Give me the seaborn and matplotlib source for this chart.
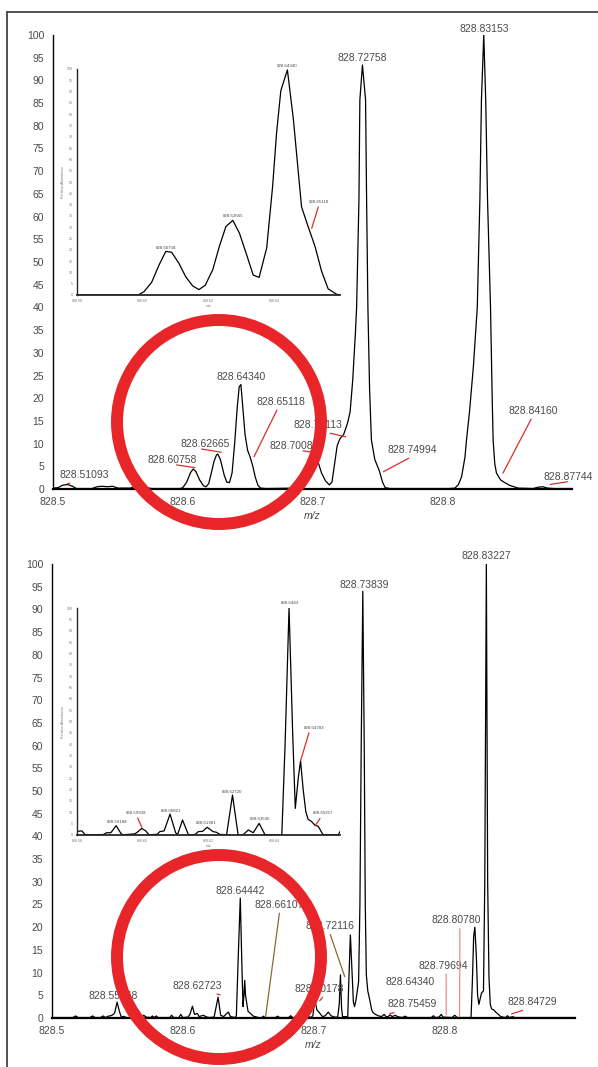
"""
High-resolution MS zoom: two profile spectra (m/z 828.5 - 828.9) with insets.
"""

import numpy as np
import pandas as pd
import matplotlib
matplotlib.use("Agg")
import matplotlib.pyplot as plt
import seaborn as sns
from matplotlib import font_manager
from matplotlib.patches import Ellipse
from matplotlib.lines import Line2D
from matplotlib.ticker import MultipleLocator

sns.set_style("white")

# condensed face if there is one, else Liberation Sans a bit smaller
try:
    font_manager.findfont("Liberation Sans Narrow", fallback_to_default=False)
    FAMILY, SCALE = "Liberation Sans Narrow", 1.0
except ValueError:
    FAMILY, SCALE = "Liberation Sans", 0.83
plt.rcParams["font.family"] = [FAMILY, "DejaVu Sans"]

# ---- data: (m/z, relative abundance) ----
top_main = [
    (828.500, 0.2), (828.504, 0.3), (828.507, 0.8), (828.511, 1.0), (828.515, 0.6),
    (828.518, 0.1), (828.530, 0.1), (828.534, 0.5), (828.538, 0.6), (828.542, 0.5),
    (828.546, 0.6), (828.550, 0.2), (828.560, 0.2), (828.563, 0.7), (828.568, 0.8),
    (828.572, 0.3), (828.576, 0.1), (828.598, 0.1), (828.600, 0.3), (828.603, 1.5),
    (828.606, 3.6), (828.608, 4.4), (828.610, 3.9), (828.613, 2.0), (828.616, 0.7),
    (828.618, 0.5), (828.620, 1.2), (828.622, 3.5), (828.624, 6.0), (828.626, 7.5),
    (828.627, 7.7), (828.629, 6.5), (828.632, 3.0), (828.634, 1.5), (828.636, 1.4),
    (828.638, 3.5), (828.640, 10.0), (828.642, 18.0), (828.6435, 22.5), (828.6448, 23.0),
    (828.646, 19.0), (828.648, 12.0), (828.650, 8.5), (828.652, 7.0), (828.654, 5.0),
    (828.656, 2.5), (828.658, 0.8), (828.660, 0.2), (828.664, 0.1), (828.690, 0.2),
    (828.693, 1.0), (828.696, 4.0), (828.699, 7.5), (828.702, 8.0), (828.704, 6.2),
    (828.707, 3.5), (828.710, 1.8), (828.713, 0.9), (828.715, 1.5), (828.717, 5.5),
    (828.719, 9.5), (828.721, 11.0), (828.724, 12.0), (828.727, 14.5), (828.729, 17.0),
    (828.731, 24.0), (828.733, 34.0), (828.734, 40.0), (828.7358, 63.7), (828.7365, 85.7),
    (828.7385, 93.4), (828.7409, 85.7), (828.7417, 63.7), (828.7427, 40.0), (828.744, 22.0),
    (828.7454, 10.8), (828.748, 6.5), (828.7515, 4.0), (828.754, 1.5), (828.756, 0.3),
    (828.760, 0.1), (828.805, 0.1), (828.8098, 0.2), (828.8125, 1.0), (828.8149, 2.7),
    (828.8175, 7.0), (828.8187, 10.8), (828.821, 17.0), (828.824, 27.0), (828.827, 40.0),
    (828.829, 63.7), (828.8302, 85.7), (828.832, 100.0), (828.8335, 85.7), (828.8349, 63.7),
    (828.8372, 40.0), (828.8385, 20.0), (828.8392, 10.8), (828.8405, 5.5), (828.8418, 3.5),
    (828.845, 2.0), (828.8482, 1.4), (828.852, 0.8), (828.8585, 0.2), (828.870, 0.1),
    (828.874, 0.4), (828.8775, 0.5), (828.881, 0.2), (828.886, 0.1), (828.900, 0.1),
]

top_inset = [
    (828.580, 0.0), (828.5986, 0.0), (828.6004, 1.5), (828.6027, 5.6), (828.6050, 13.4),
    (828.6070, 19.3), (828.6088, 18.9), (828.6110, 14.0), (828.6131, 8.0), (828.6152, 4.0),
    (828.6171, 2.4), (828.6190, 4.3), (828.6213, 11.2), (828.6233, 21.5), (828.6253, 30.3),
    (828.6274, 33.0), (828.6294, 27.4), (828.6316, 17.8), (828.6336, 8.8), (828.6354, 7.8),
    (828.6377, 20.8), (828.6395, 48.0), (828.6407, 71.6), (828.6420, 90.4), (828.6440, 99.6),
    (828.6458, 78.0), (828.6483, 39.0), (828.6503, 30.3), (828.6524, 21.5), (828.6544, 10.5),
    (828.6564, 2.7), (828.6590, 0.3), (828.6600, 0.1),
]

bottom_main = [
    (828.500, 0.1), (828.516, 0.1), (828.518, 0.45), (828.520, 0.1), (828.529, 0.1),
    (828.531, 0.45), (828.533, 0.1), (828.537, 0.1), (828.539, 0.45), (828.541, 0.1),
    (828.543, 0.4), (828.545, 0.5), (828.547, 0.8), (828.548, 1.2), (828.5498, 3.5),
    (828.5515, 1.5), (828.553, 0.2), (828.5548, 0.35), (828.557, 0.1), (828.5605, 0.1),
    (828.5617, 0.4), (828.563, 0.1), (828.568, 0.2), (828.5702, 0.6), (828.572, 0.2),
    (828.5755, 0.1), (828.5768, 0.45), (828.578, 0.1), (828.5798, 0.45), (828.581, 0.1),
    (828.590, 0.1), (828.5915, 0.6), (828.593, 0.1), (828.597, 0.1), (828.5985, 0.8),
    (828.600, 0.1), (828.604, 0.2), (828.6055, 0.8), (828.6074, 2.6), (828.609, 0.8),
    (828.6112, 1.0), (828.6125, 0.3), (828.6145, 0.5), (828.616, 0.6), (828.6175, 0.3),
    (828.620, 0.1), (828.624, 0.2), (828.627, 4.6), (828.629, 0.6), (828.6313, 0.3),
    (828.633, 0.8), (828.6349, 1.3), (828.6365, 0.3), (828.640, 0.1), (828.641, 0.5),
    (828.6425, 14.0), (828.6440, 26.4), (828.6452, 12.0), (828.6461, 2.5), (828.6468, 5.0),
    (828.6474, 8.3), (828.648, 5.0), (828.6499, 1.5), (828.654, 0.4), (828.658, 0.1),
    (828.6605, 0.1), (828.6617, 0.4), (828.663, 0.1), (828.671, 0.1), (828.6725, 0.4),
    (828.674, 0.1), (828.681, 0.1), (828.6825, 0.5), (828.684, 0.1), (828.692, 0.1),
    (828.6954, 0.4), (828.698, 0.1), (828.6995, 0.5), (828.701, 4.0), (828.7026, 1.8),
    (828.7044, 1.2), (828.706, 0.6), (828.707, 0.3), (828.709, 0.5), (828.7113, 1.3),
    (828.7134, 0.5), (828.716, 0.2), (828.7185, 0.2), (828.7197, 3.0), (828.7206, 9.5),
    (828.7215, 2.0), (828.7222, 0.3), (828.7262, 0.3), (828.7270, 8.0), (828.7282, 18.3),
    (828.7295, 10.0), (828.7305, 3.5), (828.7314, 2.5), (828.7325, 4.0), (828.7345, 8.0),
    (828.7355, 25.0), (828.7365, 60.0), (828.7377, 94.0), (828.7388, 60.0), (828.7396, 25.0),
    (828.7404, 9.5), (828.7415, 6.0), (828.743, 4.0), (828.7445, 1.8), (828.7455, 1.2),
    (828.7473, 0.8), (828.7494, 0.5), (828.752, 0.3), (828.754, 0.8), (828.7555, 0.3),
    (828.7571, 0.3), (828.7585, 0.7), (828.7602, 0.3), (828.7625, 0.6), (828.7643, 0.3),
    (828.768, 0.1), (828.770, 0.4), (828.772, 0.1), (828.790, 0.1), (828.7918, 0.5),
    (828.793, 0.1), (828.796, 0.2), (828.7977, 0.8), (828.799, 0.2), (828.806, 0.1),
    (828.808, 0.6), (828.810, 0.1), (828.8205, 0.1), (828.8215, 8.0), (828.8225, 18.0),
    (828.8234, 20.0), (828.8245, 14.0), (828.8255, 5.0), (828.8265, 3.0), (828.8285, 5.5),
    (828.8300, 6.0), (828.8310, 30.0), (828.8322, 100.0), (828.8332, 30.0), (828.8342, 9.0),
    (828.8352, 3.0), (828.8362, 2.0), (828.8378, 1.8), (828.8393, 1.3), (828.8414, 0.8),
    (828.8432, 0.3), (828.847, 0.1), (828.8483, 0.5), (828.850, 0.1), (828.8522, 0.3),
    (828.854, 0.1), (828.900, 0.1),
]

bottom_inset = [
    (828.5800, 1.6), (828.5815, 1.8), (828.5825, 0.1), (828.5880, 0.2), (828.5890, 1.0),
    (828.5903, 1.0), (828.5919, 4.1), (828.5934, 0.6), (828.5940, 0.1), (828.5976, 0.5),
    (828.5983, 1.2), (828.5997, 2.9), (828.6009, 1.8), (828.6019, 0.1), (828.6044, 0.3),
    (828.6052, 1.5), (828.6065, 1.8), (828.6083, 9.2), (828.6100, 1.0), (828.6106, 0.2),
    (828.6121, 6.6), (828.6139, 0.1), (828.6159, 0.2), (828.6169, 1.5), (828.6182, 1.6),
    (828.6196, 3.4), (828.6214, 1.5), (828.6224, 1.2), (828.6234, 0.3), (828.6255, 0.1),
    (828.6273, 17.6), (828.6290, 0.1), (828.6306, 0.2), (828.6321, 2.2), (828.6336, 1.0),
    (828.6354, 5.1), (828.6372, 0.1), (828.6423, 0.1), (828.6433, 40.0), (828.6445, 100.0),
    (828.6456, 45.0), (828.6464, 11.7), (828.6473, 25.0), (828.6480, 32.7), (828.6488, 20.0),
    (828.6496, 10.3), (828.6503, 6.9), (828.6513, 6.0), (828.6524, 4.3), (828.6534, 3.8),
    (828.6544, 1.2), (828.6549, 0.1), (828.6595, 0.1), (828.6600, 1.5),
]

# peak labels: (text, label x, label y, leader end x, leader end y, leader anchor x, colour)
RED = "#d9302c"
BROWN = "#8c6a33"
PINK = "#f08a8a"
top_main_labels = [
    ("828.51093", 828.5239, 3.1, 828.5113, 1.2, 0.62, RED),
    ("828.60758", 828.5922, 6.4, 828.6094, 4.7, 0.58, RED),
    ("828.62665", 828.6175, 9.9, 828.6296, 8.1, 0.42, RED),
    ("828.64340", 828.6451, 24.6, None, None, None, None),
    ("828.65118", 828.6757, 19.2, 828.6549, 7.1, 0.45, RED),
    ("828.70082", 828.6859, 9.5, 828.7041, 7.9, 0.68, RED),
    ("828.72113", 828.7041, 14.1, 828.7255, 11.5, 0.46, RED),
    ("828.74994", 828.7770, 8.6, 828.7546, 3.8, 0.55, RED),
    ("828.84160", 828.8698, 17.2, 828.8468, 3.5, 0.50, RED),
    ("828.87744", 828.8972, 2.7, 828.8832, 1.0, 0.48, RED),
    ("828.72758", 828.7384, 95.0, None, None, None, None),
    ("828.83153", 828.8322, 101.3, None, None, None, None),
]
bottom_main_labels = [
    ("828.55048", 828.5467, 4.9, None, None, None, None),
    ("828.62723", 828.6114, 7.1, 828.6285, 5.1, 0.65, RED),
    ("828.64442", 828.6439, 27.9, None, None, None, None),
    ("828.66107", 828.6735, 24.9, 828.6634, 0.4, 0.52, BROWN),
    ("828.72116", 828.7127, 20.2, 828.7239, 9.1, 0.48, BROWN),
    ("828.70178", 828.7047, 6.4, 828.7047, 3.8, 0.62, RED),
    ("828.64340", 828.7738, 8.0, None, None, None, None),
    ("828.75459", 828.7756, 3.0, 828.7585, 1.0, 0.47, RED),
    ("828.79694", 828.7992, 11.5, 828.8015, 0.7, 0.56, PINK),
    ("828.80780", 828.8093, 21.5, 828.8117, 0.3, 0.57, PINK),
    ("828.84729", 828.8677, 3.5, 828.8515, 0.9, 0.50, RED),
    ("828.73839", 828.7386, 95.4, None, None, None, None),
    ("828.83227", 828.8325, 101.7, None, None, None, None),
]
top_inset_labels = [
    ("828.60758", 828.6070, 20.9, None, None, None, None),
    ("828.62665", 828.6274, 35.1, None, None, None, None),
    ("828.64340", 828.6440, 101.5, None, None, None, None),
    ("828.65118", 828.6537, 41.3, 828.6514, 29.5, 0.50, RED),
]
bottom_inset_labels = [
    ("828.59188", 828.5921, 5.9, None, None, None, None),
    ("828.59928", 828.5979, 9.8, 828.5997, 3.4, 0.52, RED),
    ("828.60821", 828.6085, 10.7, None, None, None, None),
    ("828.61981", 828.6194, 5.4, None, None, None, None),
    ("828.62720", 828.6272, 19.1, None, None, None, None),
    ("828.63536", 828.6357, 6.9, None, None, None, None),
    ("828.6443", 828.6448, 102.1, None, None, None, None),
    ("828.64783", 828.6521, 47.3, 828.6480, 32.7, 0.30, RED),
    ("828.65257", 828.6549, 9.6, 828.6524, 4.0, 0.45, RED),
]

W, H = 598, 1067
TXT = "#4a4a4a"
INSET_TXT = "#777777"


def ax_rect(left, top, right, bottom):
    """Pixel box -> figure fraction rect."""
    return [left / W, 1 - bottom / H, (right - left) / W, (bottom - top) / H]


def draw_profile(ax, profile):
    df = pd.DataFrame(profile, columns=["mz", "abundance"])
    sns.lineplot(data=df, x="mz", y="abundance", ax=ax, color="black",
                 lw=0.9, estimator=None, sort=False)


def add_labels(ax, labels, size):
    for text, tx, ty, px, py, rx, col in labels:
        if px is None:
            ax.text(tx, ty, text, ha="center", va="center", fontsize=size,
                    color=TXT, clip_on=False)
        else:
            ax.annotate(text, xy=(px, py), xytext=(tx, ty), ha="center",
                        va="center", fontsize=size, color=TXT,
                        arrowprops=dict(arrowstyle="-", color=col, lw=0.9,
                                        relpos=(rx, 0.0), shrinkA=0, shrinkB=0))


def style_main(ax):
    ax.set_xlim(828.5, 828.9)
    ax.set_ylim(0, 100)
    for s in ["top", "right"]:
        ax.spines[s].set_visible(False)
    ax.spines["left"].set_linewidth(1.0)
    ax.spines["bottom"].set_linewidth(1.6)
    for s in ["left", "bottom"]:
        ax.spines[s].set_color("black")
    ax.set_facecolor("none")

    xt = np.round(828.5 + 0.02 * np.arange(20), 3)
    ax.set_xticks(xt)
    ax.set_xticklabels([f"{v:.1f}" if abs(v * 10 - round(v * 10)) < 1e-6 else "" for v in xt])
    ax.xaxis.set_minor_locator(MultipleLocator(0.005))
    ax.set_yticks(np.arange(0, 101, 5))
    ax.yaxis.set_minor_locator(MultipleLocator(1))
    ax.tick_params(axis="both", which="major", direction="out", length=3.4,
                   width=1.0, color="black", labelsize=9 * SCALE, labelcolor=TXT, pad=2.5)
    ax.tick_params(axis="both", which="minor", direction="out", length=2.0,
                   width=0.9, color="black")
    ax.tick_params(axis="y", which="major", length=4.8, pad=1.5)
    for tick, v in zip(ax.xaxis.get_major_ticks(), xt):
        if abs(v * 10 - round(v * 10)) < 1e-6:
            tick.tick1line.set_markersize(5.0)
    ax.set_xlabel("m/z", fontsize=9 * SCALE, style="italic", color=TXT, labelpad=3)
    ax.set_ylabel("")


def style_inset(ax):
    ax.set_xlim(828.58, 828.66)
    ax.set_ylim(0, 100)
    for s in ["top", "right"]:
        ax.spines[s].set_visible(False)
    ax.spines["left"].set_linewidth(1.0)
    ax.spines["bottom"].set_linewidth(1.3)
    ax.set_facecolor("none")
    ax.set_xticks([828.58, 828.60, 828.62, 828.64])
    ax.set_xticklabels(["828.58", "828.60", "828.62", "828.64"])
    ax.xaxis.set_minor_locator(MultipleLocator(0.002))
    ax.set_yticks(np.arange(0, 101, 5))
    ax.yaxis.set_minor_locator(MultipleLocator(1))
    ax.tick_params(axis="both", which="major", direction="out", length=2.2,
                   width=0.7, color="black", labelsize=3.2 * SCALE,
                   labelcolor=INSET_TXT, pad=1)
    ax.tick_params(axis="both", which="minor", direction="out", length=1.2,
                   width=0.6, color="black")
    ax.set_xlabel("m/z", fontsize=3.2 * SCALE, style="italic", color=INSET_TXT, labelpad=0.5)
    ax.set_ylabel("Relative Abundance", fontsize=3.2 * SCALE, color=INSET_TXT, labelpad=1)


fig = plt.figure(figsize=(W / 100, H / 100), dpi=100)

panels = [
    (ax_rect(53, 35, 572, 489), ax_rect(77, 69, 340, 295), top_main, top_inset,
     top_main_labels, top_inset_labels, 422),
    (ax_rect(52, 564, 575, 1018), ax_rect(77, 608, 340, 835), bottom_main, bottom_inset,
     bottom_main_labels, bottom_inset_labels, 957),
]

for main_rect, inset_rect, main_prof, inset_prof, main_lab, inset_lab, cy in panels:
    ax = fig.add_axes(main_rect)
    draw_profile(ax, main_prof)
    style_main(ax)
    add_labels(ax, main_lab, 9 * SCALE)

    axi = fig.add_axes(inset_rect)
    draw_profile(axi, inset_prof)
    style_inset(axi)
    add_labels(axi, inset_lab, 3.8 * SCALE)

    # red highlight ring
    ring = Ellipse((219 / W, 1 - cy / H), width=204 / W, height=204 / H,
                   transform=fig.transFigure, fill=False, ec="#e8262a", lw=8.6, zorder=10)
    fig.add_artist(ring)

# page frame
fig.add_artist(Line2D([7 / W, 7 / W], [0, 1 - 12 / H], color="#444444", lw=1.3,
                      transform=fig.transFigure))
fig.add_artist(Line2D([7 / W, 1], [1 - 12 / H, 1 - 12 / H], color="#444444", lw=1.3,
                      transform=fig.transFigure))

fig.savefig("out.png", dpi=100)
